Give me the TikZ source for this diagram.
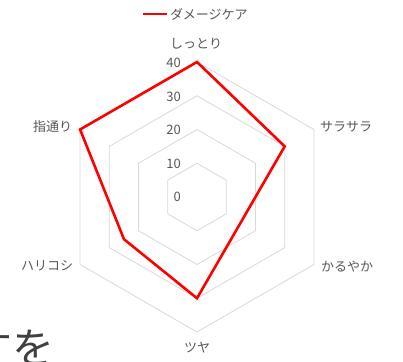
\documentclass[tikz,border=0pt]{standalone}
\usepackage{fontspec}
\setmainfont{Noto Sans CJK JP}
\usetikzlibrary{calc}
\definecolor{lblgray}{HTML}{595959}
\definecolor{ringgray}{HTML}{D9D9D9}
\definecolor{serred}{HTML}{FF0000}
\begin{document}
\begin{tikzpicture}[x=1pt,y=-1pt,
  ring/.style={draw=ringgray,line width=0.8pt,line join=miter},
  series/.style={draw=serred,line width=2.6pt,line join=miter},
  axlbl/.style={text=lblgray,font=\fontsize{13}{13}\selectfont,inner sep=0pt},
  tick/.style={text=lblgray,font=\fontsize{13}{13}\selectfont,inner sep=0pt,anchor=east},
  legtxt/.style={text=lblgray,font=\fontsize{13}{13}\selectfont,inner sep=0pt,anchor=west},
  bigtxt/.style={text=black!75,font=\fontsize{42}{42}\selectfont,inner sep=0pt,anchor=base east}]
\useasboundingbox (0,0) rectangle (403,361);
\fill[white] (0,0) rectangle (403,361);
\def\u{3.375}
\coordinate (c) at (197,197);
% rings
\foreach \r in {10,20,30,40}{
  \draw[ring] ($(c)+(-90:\r*\u)$) -- ($(c)+(-30:\r*\u)$) -- ($(c)+(30:\r*\u)$)
    -- ($(c)+(90:\r*\u)$) -- ($(c)+(150:\r*\u)$) -- ($(c)+(210:\r*\u)$) -- cycle;
}
% tick labels
\node[tick] (t0) at (181,197) {0};
\node[tick] (t10) at (181,163.5) {10};
\node[tick] (t20) at (181,130) {20};
\node[tick] (t30) at (181,96.5) {30};
\node[tick] (t40) at (181,63) {40};
% data
\coordinate (p1) at ($(c)+(-90:40*\u)$);
\coordinate (p2) at ($(c)+(-30:30*\u)$);
\coordinate (p3) at ($(c)+(30:15*\u)$);
\coordinate (p4) at ($(c)+(90:30*\u)$);
\coordinate (p5) at ($(c)+(150:25*\u)$);
\coordinate (p6) at ($(c)+(210:40*\u)$);
\draw[series] (p1) -- (p2) -- (p3) -- (p4) -- (p5) -- (p6) -- cycle;
% category labels
\foreach \nm/\x/\y/\t in {a/196/44/しっとり, b/346/127/サラサラ, c2/347/267/かるやか, d/197/348/ツヤ, e/47/266/ハリコシ, f/52.5/127/指通り}{
  \node[axlbl] (l\nm) at (\x,\y) {\t};
}
% legend
\coordinate (lg1) at (143,14);
\coordinate (lg2) at (167,14);
\draw[series] (lg1) -- (lg2);
\node[legtxt] (leg) at (170,14) {ダメージケア};
% bottom cropped text
\node[bigtxt] (bt) at (55,363) {すを};
\end{tikzpicture}
\end{document}
